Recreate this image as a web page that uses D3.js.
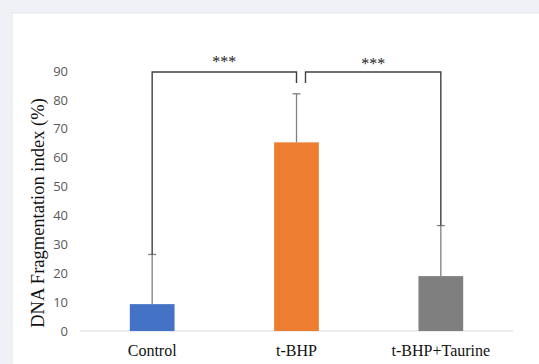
<!DOCTYPE html>
<html><head><meta charset="utf-8">
<script src="https://cdn.jsdelivr.net/npm/d3@7"></script>
<style>
html,body{margin:0;padding:0;background:#eff1f6;}
svg{display:block;}
</style></head>
<body>
<svg id="c" width="539" height="364"></svg>
<script>
const categories = ["Control", "t-BHP", "t-BHP+Taurine"];
const means = [9.3, 65.3, 19.0];
const errors = [17.2, 16.8, 17.5];
const colors = ["#4472c4", "#ed7d31", "#7f7f7f"];
const yTicks = [0,10,20,30,40,50,60,70,80,90];
const sigPairs = [[0,1,"***"],[1,2,"***"]];

const svg = d3.select("#c");
svg.append("rect").attr("x",12).attr("y",13).attr("width",540).attr("height",360)
  .attr("fill","#fff").attr("stroke","#e3e5ea").attr("stroke-width",1);

const x = d3.scaleBand().domain(categories).range([80,513]).paddingInner(0.69).paddingOuter(0.345);
const y = d3.scaleLinear().domain([0,90]).range([331,71]);

// y tick labels
const yAxis = svg.append("g").attr("transform","translate(80,0)")
  .call(d3.axisLeft(y).tickValues(yTicks).tickSize(0).tickPadding(12));
yAxis.select(".domain").remove();
yAxis.selectAll("text").attr("fill","#595959").style("font-family","'Open Sans', 'Noto Sans', sans-serif").style("font-size","13px");

// baseline
svg.append("line").attr("x1",80).attr("x2",513).attr("y1",y(0)).attr("y2",y(0))
  .attr("stroke","#d9d9d9").attr("stroke-width",1.2);

// bars
svg.selectAll("rect.bar").data(categories).enter().append("rect")
  .attr("class","bar")
  .attr("x",d=>x(d)).attr("width",x.bandwidth())
  .attr("y",(d,i)=>y(means[i])).attr("height",(d,i)=>y(0)-y(means[i]))
  .attr("fill",(d,i)=>colors[i]);

// error bars
const cx = d=>x(d)+x.bandwidth()/2;
const eb = svg.append("g").attr("stroke","#7f7f7f").attr("stroke-width",1.3);
categories.forEach((d,i)=>{
  eb.append("line").attr("x1",cx(d)).attr("x2",cx(d)).attr("y1",y(means[i])).attr("y2",y(means[i]+errors[i]));
  eb.append("line").attr("x1",cx(d)-4).attr("x2",cx(d)+4).attr("y1",y(means[i]+errors[i])).attr("y2",y(means[i]+errors[i]));
});

// x labels
svg.selectAll("text.xl").data(categories).enter().append("text")
  .attr("class","xl").attr("x",d=>cx(d)).attr("y",356).attr("text-anchor","middle")
  .attr("fill","#111").style("font-family","'Liberation Serif', 'Times New Roman', serif").style("font-size","16px")
  .text(d=>d);

// y title
svg.append("text").attr("transform",`translate(44,${(y(0)+y(90))/2+12}) rotate(-90)`)
  .attr("text-anchor","middle").attr("fill","#111")
  .style("font-family","'Liberation Serif', 'Times New Roman', serif").style("font-size","18.5px")
  .text("DNA Fragmentation index (%)");

// significance brackets
const bTop = y(90)+1;
const br = svg.append("g").attr("fill","none").attr("stroke","#404040").attr("stroke-width",1.4);
const c0 = cx(categories[0]), c1 = cx(categories[1]), c2 = cx(categories[2]);
br.append("path").attr("d",`M${c0},${y(means[0]+errors[0])}V${bTop}H${c1}V${bTop+11}`);
br.append("path").attr("d",`M${c1+9},${bTop+11}V${bTop}H${c2}V${y(means[2]+errors[2])}`);
svg.append("text").attr("x",(c0+c1)/2).attr("y",bTop-5).attr("text-anchor","middle")
  .attr("fill","#222").style("font-family","'Liberation Serif', serif").style("font-size","16px").text(sigPairs[0][2]);
svg.append("text").attr("x",(c1+9+c2)/2).attr("y",bTop-3).attr("text-anchor","middle")
  .attr("fill","#222").style("font-family","'Liberation Serif', serif").style("font-size","16px").text(sigPairs[1][2]);
</script>
</body></html>
